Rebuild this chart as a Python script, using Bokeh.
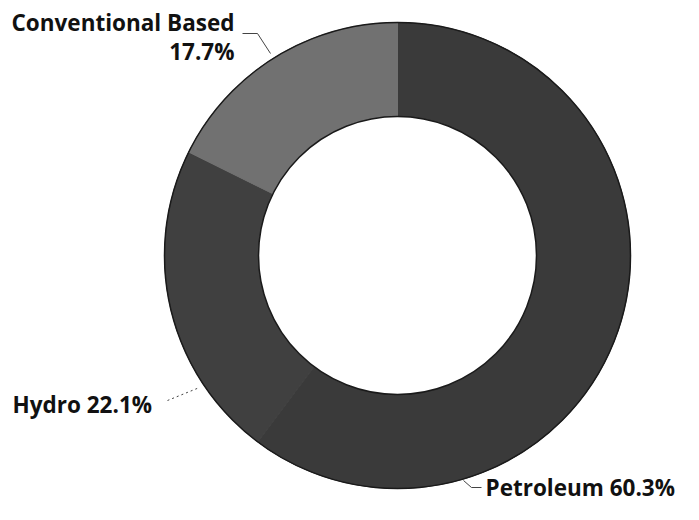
import numpy as np
from bokeh.plotting import figure
from bokeh.models import Range1d, Label, ColumnDataSource
from bokeh.embed import file_html
from bokeh.resources import INLINE

# ---- data ----
categories = ["Petroleum", "Hydro", "Conventional Based"]
shares = [60.3, 22.1, 17.7]
colors = ["#3a3a3a", "#404040", "#717171"]

# ---- layout ----
W, H = 683, 504
CX, CY = 397, 255          # donut centre, pixels from top-left of plot
R_OUT, R_IN = 233, 139

frac = np.array(shares) / np.sum(shares)
cum = np.cumsum(frac)
start = np.pi / 2 - 2 * np.pi * (cum - frac)
end = np.pi / 2 - 2 * np.pi * cum

src = ColumnDataSource(dict(cat=categories, start=start, end=end, color=colors))

p = figure(width=W, height=H,
           x_range=Range1d(-CX, W - CX), y_range=Range1d(-(H - CY), CY),
           output_backend="svg", toolbar_location=None, min_border=0,
           x_axis_location=None, y_axis_location=None)
p.grid.visible = False
p.outline_line_color = None
p.background_fill_color = "white"
p.border_fill_color = "white"

p.annular_wedge(x=0, y=0, inner_radius=R_IN, outer_radius=R_OUT,
                start_angle="start", end_angle="end", direction="clock",
                fill_color="color", line_color="color", line_width=1, source=src)
# dark rim
p.circle(x=[0], y=[0], radius=R_OUT, fill_color=None, line_color="#1a1a1a", line_width=1.5)
p.circle(x=[0], y=[0], radius=R_IN, fill_color="white", line_color="#1a1a1a", line_width=1.5)

# leader lines (pixel layout relative to centre)
leaders = [
    ([-155, -140, -127], [222, 222, 202], "solid"),
    ([-230, -198], [-145, -132], "2 3"),
    ([66, 74, 84], [-225, -232, -232], "solid"),
]
for xs, ys, dash in leaders:
    p.line(xs, ys, line_color="#444444", line_width=1, line_dash=dash)

font = "Open Sans"
fs = "22.5px"
def lab(x, y, text, align):
    p.add_layout(Label(x=x, y=y, text=text, text_font=font, text_font_style="bold",
                       text_font_size=fs, text_color="#111111",
                       text_align=align, text_baseline="middle"))

lab(-163, 233, f"{categories[2]}", "right")
lab(-163, 204, f"{shares[2]}%", "right")
lab(-385, -149, f"{categories[1]} {shares[1]}%", "left")
lab(88, -232, f"{categories[0]} {shares[0]}%", "left")

open("out.html", "w").write(file_html(p, INLINE))
